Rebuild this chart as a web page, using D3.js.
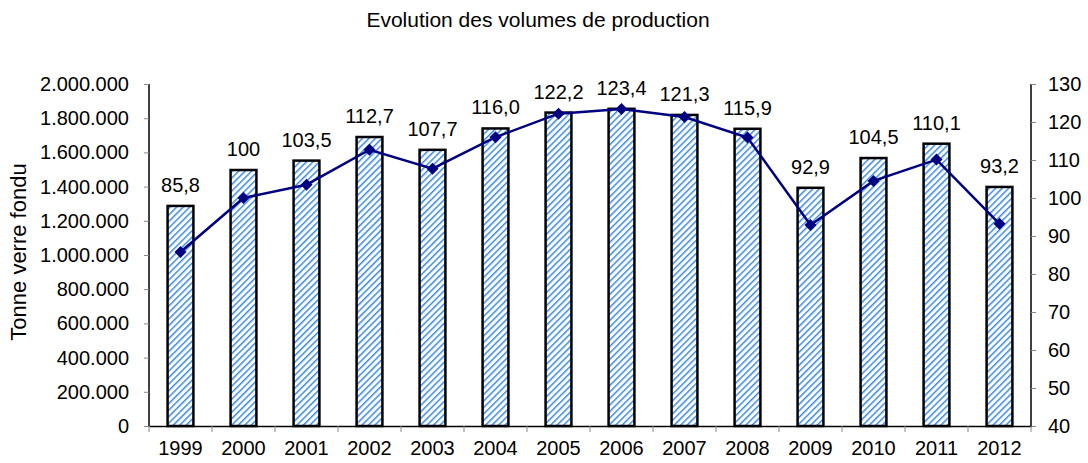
<!DOCTYPE html>
<html>
<head>
<meta charset="utf-8">
<script src="https://cdn.jsdelivr.net/npm/d3@7"></script>
<style>
  body { margin: 0; background: #fff; }
  text { font-family: "Liberation Sans", Arial, sans-serif; fill: #000; }
</style>
</head>
<body>
<div id="chart"></div>
<script>
// chart data
const years = ["1999", "2000", "2001", "2002", "2003", "2004", "2005", "2006", "2007", "2008", "2009", "2010", "2011", "2012"];
const tonnes = [1287000, 1497000, 1552000, 1690000, 1615000, 1740000, 1833000, 1855000, 1819000, 1738000, 1393000, 1567000, 1651000, 1398000];
const indexValues = [85.8, 100, 103.5, 112.7, 107.7, 116.0, 122.2, 123.4, 121.3, 115.9, 92.9, 104.5, 110.1, 93.2];
const indexLabels = ["85,8", "100", "103,5", "112,7", "107,7", "116,0", "122,2", "123,4", "121,3", "115,9", "92,9", "104,5", "110,1", "93,2"];
const leftTicks = [0, 200000, 400000, 600000, 800000, 1000000, 1200000, 1400000, 1600000, 1800000, 2000000];
const rightTicks = [40, 50, 60, 70, 80, 90, 100, 110, 120, 130];

const w = 1088, h = 463;
const margin = { top: 84, right: 57, bottom: 37, left: 149 };
const iw = w - margin.left - margin.right;
const ih = h - margin.top - margin.bottom;

const fr = d3.formatLocale({ decimal: ",", thousands: ".", grouping: [3], currency: ["", ""] });
const fmt = fr.format(",d");

const svg = d3.select("#chart").append("svg")
    .attr("width", w)
    .attr("height", h);

// hatch pattern for bars
const defs = svg.append("defs");
const pat = defs.append("pattern")
    .attr("id", "hatch")
    .attr("patternUnits", "userSpaceOnUse")
    .attr("width", 4.6)
    .attr("height", 4.6)
    .attr("patternTransform", "rotate(45)");
pat.append("rect").attr("width", 4.6).attr("height", 4.6).attr("fill", "#fff");
pat.append("rect").attr("width", 1.5).attr("height", 4.6).attr("fill", "#3b8be6");

svg.append("text")
    .attr("x", 538)
    .attr("y", 27)
    .attr("text-anchor", "middle")
    .style("font-size", "21px")
    .text("Evolution des volumes de production");

const g = svg.append("g")
    .attr("transform", `translate(${margin.left},${margin.top})`);

const xScale = d3.scaleBand()
    .domain(years)
    .range([0, iw])
    .paddingInner(0.59)
    .paddingOuter(0.295);

const xTicks = d3.scaleBand().domain(years).range([0, iw]);

const yLeft = d3.scaleLinear().domain([0, 2000000]).range([ih, 0]);
const yRight = d3.scaleLinear().domain([40, 130]).range([ih, 0]);

// bars
g.selectAll("rect.bar")
    .data(tonnes)
    .enter().append("rect")
    .attr("class", "bar")
    .attr("x", (d, i) => xScale(years[i]))
    .attr("y", (d) => yLeft(d))
    .attr("width", xScale.bandwidth())
    .attr("height", (d) => ih - yLeft(d))
    .attr("fill", "url(#hatch)")
    .attr("stroke", "#000")
    .attr("stroke-width", 2.5);

// left axis
const leftAxis = g.append("g")
    .call(d3.axisLeft(yLeft).tickValues(leftTicks).tickSize(5).tickPadding(15).tickFormat(fmt));
leftAxis.select(".domain").attr("stroke", "#000").attr("stroke-width", 1.5).attr("d", `M0,0V${ih}`);
leftAxis.selectAll(".tick line").attr("stroke", "#888");
leftAxis.selectAll(".tick text").style("font-size", "20px").attr("font-family", null);

// right axis
const rightAxis = g.append("g")
    .attr("transform", `translate(${iw},0)`)
    .call(d3.axisRight(yRight).tickValues(rightTicks).tickSize(5).tickPadding(12));
rightAxis.select(".domain").attr("stroke", "#000").attr("stroke-width", 1.5).attr("d", `M0,0V${ih}`);
rightAxis.selectAll(".tick line").attr("stroke", "#888");
rightAxis.selectAll(".tick text").style("font-size", "20px").attr("font-family", null);

// bottom axis
const bottomAxis = g.append("g")
    .attr("transform", `translate(0,${ih})`)
    .call(d3.axisBottom(xTicks).tickSize(0).tickPadding(15));
bottomAxis.select(".domain").attr("stroke", "#000").attr("stroke-width", 1.5);
bottomAxis.selectAll(".tick text").style("font-size", "20px").attr("font-family", null);
// band boundary ticks
g.append("g")
    .selectAll("line")
    .data(years.concat(["end"]))
    .enter().append("line")
    .attr("x1", (d, i) => i * xTicks.step())
    .attr("x2", (d, i) => i * xTicks.step())
    .attr("y1", ih)
    .attr("y2", ih + 6)
    .attr("stroke", "#888");

// index line
const line = d3.line()
    .x((d, i) => xTicks(years[i]) + xTicks.bandwidth() / 2)
    .y((d) => yRight(d));

g.append("path")
    .datum(indexValues)
    .attr("fill", "none")
    .attr("stroke", "#000080")
    .attr("stroke-width", 2.5)
    .attr("d", line);

g.selectAll("path.marker")
    .data(indexValues)
    .enter().append("path")
    .attr("class", "marker")
    .attr("d", d3.symbol().type(d3.symbolSquare).size(72))
    .attr("transform", (d, i) => `translate(${xTicks(years[i]) + xTicks.bandwidth() / 2},${yRight(d)}) rotate(45)`)
    .attr("fill", "#000080");

// value labels above bars
g.selectAll("text.lbl")
    .data(indexLabels)
    .enter().append("text")
    .attr("class", "lbl")
    .attr("x", (d, i) => xTicks(years[i]) + xTicks.bandwidth() / 2)
    .attr("y", (d, i) => yLeft(tonnes[i]) - 14)
    .attr("text-anchor", "middle")
    .style("font-size", "20px")
    .text((d) => d);

// y axis title
svg.append("text")
    .attr("transform", `translate(26,${margin.top + ih / 2 - 3}) rotate(-90)`)
    .attr("text-anchor", "middle")
    .style("font-size", "22px")
    .text("Tonne verre fondu");
</script>
</body>
</html>
